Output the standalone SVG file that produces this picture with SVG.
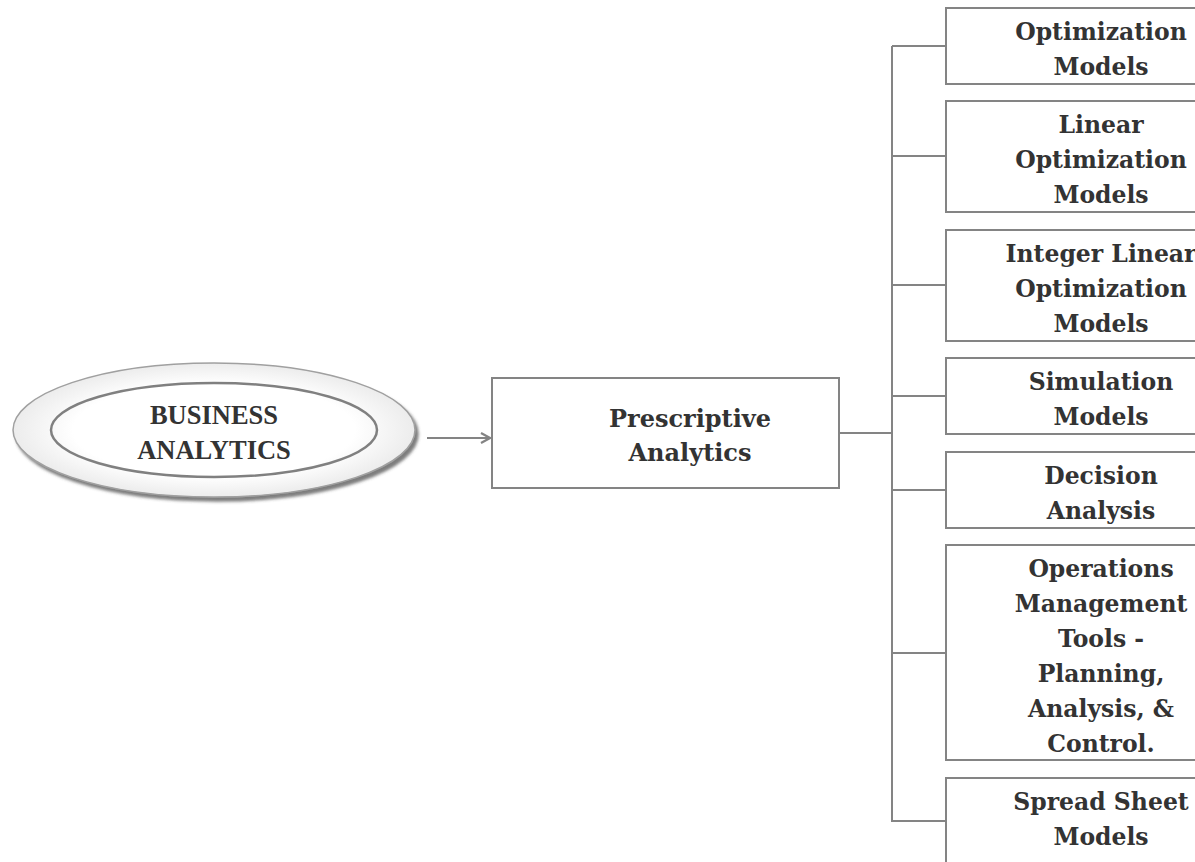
<svg xmlns="http://www.w3.org/2000/svg" width="1195" height="862" viewBox="0 0 1195 862">
<style>
.box{fill:#fff;stroke:#848484;stroke-width:2}
.t{font-family:"DejaVu Serif","Liberation Serif",serif;font-weight:bold;font-size:23.5px;fill:#333;text-anchor:middle}
.tp{font-family:"DejaVu Serif","Liberation Serif",serif;font-weight:bold;font-size:24px;fill:#333;text-anchor:middle}
.tb{font-family:"Liberation Serif","DejaVu Serif",serif;font-weight:bold;font-size:26.5px;fill:#333;text-anchor:middle}
.ln{stroke:#848484;stroke-width:2;fill:none}
</style>
<defs>
<radialGradient id="g" cx="0.5" cy="0.5" r="0.5">
<stop offset="0.7" stop-color="#ffffff"/>
<stop offset="1" stop-color="#ececec"/>
</radialGradient>
<filter id="sh" x="-10%" y="-20%" width="125%" height="150%">
<feDropShadow dx="3" dy="4" stdDeviation="1.5" flood-color="#444" flood-opacity="0.7"/>
</filter>
<marker id="ar" markerWidth="12" markerHeight="12" refX="10" refY="6" orient="auto" markerUnits="userSpaceOnUse">
<path d="M1,1 L10,6 L1,11" fill="none" stroke="#848484" stroke-width="2.2"/>
</marker>
</defs>
<rect width="1195" height="862" fill="#fff"/>
<g id="connectors">
<line class="ln" x1="427" y1="438" x2="490" y2="438" marker-end="url(#ar)"/>
<line class="ln" x1="839" y1="433" x2="892" y2="433"/>
<line class="ln" x1="892" y1="46" x2="892" y2="822"/>
<line class="ln" x1="892" y1="46" x2="946" y2="46"/>
<line class="ln" x1="892" y1="156" x2="946" y2="156"/>
<line class="ln" x1="892" y1="285" x2="946" y2="285"/>
<line class="ln" x1="892" y1="396" x2="946" y2="396"/>
<line class="ln" x1="892" y1="490" x2="946" y2="490"/>
<line class="ln" x1="892" y1="653" x2="946" y2="653"/>
<line class="ln" x1="892" y1="821" x2="946" y2="821"/>
</g>
<g id="business-analytics">
<ellipse cx="214" cy="430" rx="201" ry="67" fill="url(#g)" stroke="#a0a0a0" stroke-width="1.5" filter="url(#sh)"/>
<ellipse cx="214" cy="430" rx="163" ry="47" fill="none" stroke="#808080" stroke-width="2.5"/>
<text class="tb" x="214" y="424">BUSINESS</text>
<text class="tb" x="214" y="459">ANALYTICS</text>
</g>
<g id="prescriptive">
<rect class="box" x="492" y="378" width="347" height="110"/>
<text class="tp" x="690" y="427">Prescriptive</text>
<text class="tp" x="690" y="461">Analytics</text>
</g>
<g id="n1">
<rect class="box" x="946" y="8" width="260" height="76"/>
<text class="t" x="1101" y="40">Optimization</text>
<text class="t" x="1101" y="75">Models</text>
</g>
<g id="n2">
<rect class="box" x="946" y="101" width="260" height="111"/>
<text class="t" x="1101" y="133">Linear</text>
<text class="t" x="1101" y="168">Optimization</text>
<text class="t" x="1101" y="203">Models</text>
</g>
<g id="n3">
<rect class="box" x="946" y="230" width="260" height="111"/>
<text class="t" x="1101" y="262">Integer Linear</text>
<text class="t" x="1101" y="297">Optimization</text>
<text class="t" x="1101" y="332">Models</text>
</g>
<g id="n4">
<rect class="box" x="946" y="358" width="260" height="76"/>
<text class="t" x="1101" y="390">Simulation</text>
<text class="t" x="1101" y="425">Models</text>
</g>
<g id="n5">
<rect class="box" x="946" y="452" width="260" height="76"/>
<text class="t" x="1101" y="484">Decision</text>
<text class="t" x="1101" y="519">Analysis</text>
</g>
<g id="n6">
<rect class="box" x="946" y="545" width="260" height="215"/>
<text class="t" x="1101" y="577">Operations</text>
<text class="t" x="1101" y="612">Management</text>
<text class="t" x="1101" y="647">Tools -</text>
<text class="t" x="1101" y="682">Planning,</text>
<text class="t" x="1101" y="717">Analysis, &amp;</text>
<text class="t" x="1101" y="752">Control.</text>
</g>
<g id="n7">
<rect class="box" x="946" y="778" width="260" height="100"/>
<text class="t" x="1101" y="810">Spread Sheet</text>
<text class="t" x="1101" y="845">Models</text>
</g>
</svg>
